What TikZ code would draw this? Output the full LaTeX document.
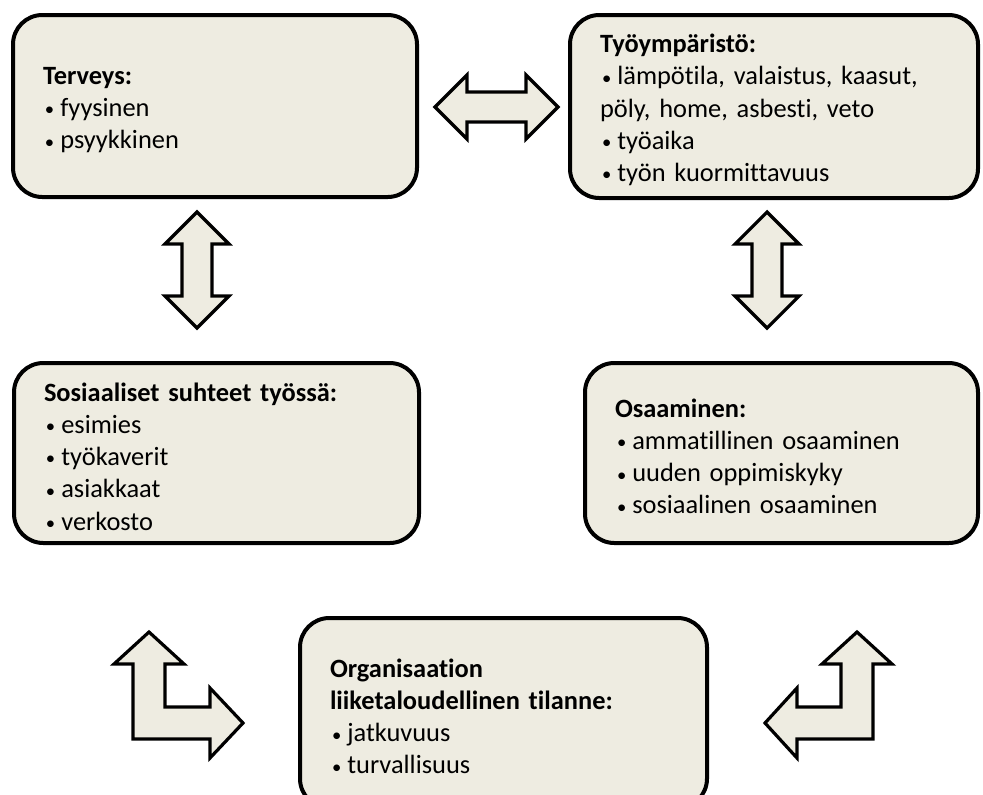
\documentclass[tikz,border=0pt]{standalone}
\usepackage{fontspec}
\setmainfont{Carlito}[Ligatures=NoCommon]
\definecolor{boxfill}{HTML}{EEECE1}
\newcommand{\bul}{\makebox[13pt][l]{\hspace{1.5pt}\raisebox{0.5pt}{\fontsize{14}{14}\selectfont•}}}
\newcommand{\hd}{\rule{0pt}{19pt}}
\tikzset{
  infobox/.style={draw,line width=3pt,rounded corners=22pt,fill=boxfill,
    align=left,inner xsep=22.5pt,font=\fontsize{19.8}{24.2}\selectfont},
  blockarrow/.style={draw,line width=2.4pt,fill=boxfill,line join=miter}
}
\begin{document}
\begin{tikzpicture}
  [x=0.75pt,y=-0.75pt]
  \useasboundingbox (0,0) rectangle (983,794);
  \node[infobox,text width=258pt,minimum height=136.5pt] (terveys) at (215,106)
    {\hd\textbf{Terveys:}\\\bul fyysinen\\\bul psyykkinen};
  \node[infobox,text width=261pt,minimum height=137.25pt] (ymparisto) at (774,106.5)
    {\hd\textbf{Työympäristö:}\\\bul lämpötila, valaistus, kaasut,\\pöly, home, asbesti, veto\\\bul työaika\\\bul työn kuormittavuus};
  \node[infobox,text width=258.75pt,minimum height=135pt] (suhteet) at (216.5,453)
    {\hd\textbf{Sosiaaliset suhteet työssä:}\\\bul esimies\\\bul työkaverit\\\bul asiakkaat\\\bul verkosto};
  \node[infobox,text width=249.75pt,minimum height=135pt] (osaaminen) at (781.5,453)
    {\hd\textbf{Osaaminen:}\\\bul ammatillinen osaaminen\\\bul uuden oppimiskyky\\\bul sosiaalinen osaaminen};
  \node[infobox,text width=260.25pt,minimum height=142.5pt] (talous) at (503.5,713)
    {\hd\textbf{Organisaation}\\\textbf{liiketaloudellinen tilanne:}\\\bul jatkuvuus\\\bul turvallisuus};
  % double arrows
  \draw[blockarrow] (435,107) -- (467,75) -- (467,92) -- (526,92) -- (526,75) -- (558,107)
    -- (526,139) -- (526,122) -- (467,122) -- (467,139) -- cycle;
  \foreach \ax in {197,767}
    \draw[blockarrow,shift={(\ax,0)}] (0,212) -- (32,244) -- (15,244) -- (15,296) -- (32,296)
      -- (0,328) -- (-32,296) -- (-15,296) -- (-15,244) -- (-32,244) -- cycle;
  % bent arrows
  \draw[blockarrow] (149,632) -- (184,664) -- (165,664) -- (165,707) -- (210,707) -- (210,688)
    -- (243,723) -- (210,758) -- (210,739) -- (133,739) -- (133,664) -- (114,664) -- cycle;
  \draw[blockarrow] (857,632) -- (892,664) -- (873,664) -- (873,739) -- (797,739) -- (797,758)
    -- (765,723) -- (797,688) -- (797,707) -- (841,707) -- (841,664) -- (822,664) -- cycle;
\end{tikzpicture}
\end{document}
